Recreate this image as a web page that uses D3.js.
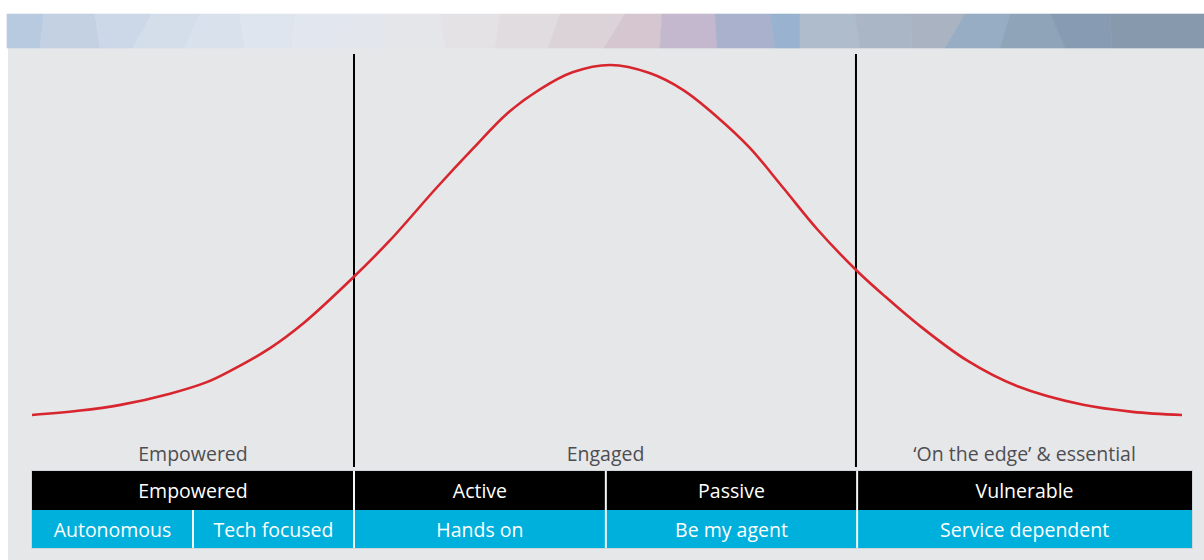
<!DOCTYPE html>
<html>
<head>
<meta charset="utf-8">
<script src="https://cdn.jsdelivr.net/npm/d3@7"></script>
<style>
  html, body { margin: 0; padding: 0; background: #ffffff; }
  svg { display: block; }
  text { font-family: "Open Sans", "Noto Sans", sans-serif; }
</style>
</head>
<body>
<svg id="chart" width="1204" height="560"></svg>
<script>
// ---- data ----
const positions = [0, 4.0, 7.7, 12.0, 15.2, 17.0, 20.7, 23.6, 27.9, 31.1, 35.2, 38.4, 41.3, 44.2, 47.0, 50.3,
                   53.7, 56.6, 59.6, 62.4, 65.3, 68.3, 71.7, 74.0, 77.0, 81.3, 85.7, 91.4, 95.7, 100];
const share     = [0, 1.2, 2.9, 6.1, 9.4, 12.2, 19.1, 26.2, 39.2, 49.8, 65.0, 76.3, 86.1, 93.1, 97.9, 100,
                   97.7, 92.9, 85.1, 76.4, 65.0, 53.0, 41.3, 34.4, 26.0, 15.6, 8.2, 2.9, 0.9, 0];
const dividers = [28.0, 71.65];
const groupLabels = ["Empowered", "Engaged", "‘On the edge’ & essential"];
const groupBounds = [0, 28.0, 71.75, 100.87];
const segmentLabels = ["Empowered", "Active", "Passive", "Vulnerable"];
const segmentBounds = [0, 28.0, 49.9, 71.75, 100.87];
const subLabels = ["Autonomous", "Tech focused", "Hands on", "Be my agent", "Service dependent"];
const subBounds = [0, 14.0, 28.0, 49.9, 71.75, 100.87];

// ---- layout ----
const svg = d3.select("#chart");
const x = d3.scaleLinear().domain([0, 100]).range([32, 1182]);
const y = d3.scaleLinear().domain([0, 100]).range([415, 65]);

// background panel
svg.append("rect").attr("x", 8).attr("y", 48).attr("width", 1196).attr("height", 512).attr("fill", "#e6e7e9");

// decorative banner (low-poly strip)
const banner = [
  [7, 7, 44, 40, "#b8cadf"], [44, 40, 95, 100, "#c3d1e3"], [95, 100, 152, 133, "#ccd7e7"],
  [152, 133, 200, 185, "#d4deeb"], [200, 185, 240, 245, "#d9e1ed"], [240, 245, 296, 292, "#dfe5ee"],
  [296, 292, 352, 330, "#e2e6ee"], [352, 330, 385, 385, "#e3e6ec"], [385, 385, 440, 445, "#e5e6ea"],
  [440, 445, 500, 495, "#e4e2e5"], [500, 495, 560, 548, "#e0dcdf"], [560, 548, 625, 604, "#dcd3d8"],
  [625, 604, 662, 660, "#d5c6cf"], [662, 660, 715, 717, "#c3b8cd"], [715, 717, 770, 775, "#a9b1cd"],
  [770, 775, 800, 800, "#99b2cf"], [800, 800, 855, 860, "#afbccb"], [855, 860, 910, 912, "#aab6c5"],
  [910, 912, 965, 945, "#aab3c2"], [965, 945, 1010, 1000, "#97adc3"], [1010, 1000, 1050, 1065, "#8fa4b8"],
  [1050, 1065, 1110, 1112, "#879cb2"], [1110, 1112, 1204, 1204, "#8699ad"]
];
svg.append("g").selectAll("polygon").data(banner).join("polygon")
  .attr("points", d => `${d[0]},14 ${d[2]},14 ${d[3]},48 ${d[1]},48`)
  .attr("fill", d => d[4]).attr("stroke", d => d[4]).attr("stroke-width", 0.6);

// vertical dividers
svg.append("g").selectAll("line").data(dividers).join("line")
  .attr("x1", d => x(d)).attr("x2", d => x(d))
  .attr("y1", 54).attr("y2", 467)
  .attr("stroke", "#000").attr("stroke-width", 2);

// bell curve
const pts = positions.map((p, i) => [p, share[i]]);
svg.append("path").datum(pts)
  .attr("fill", "none").attr("stroke", "#d7262e").attr("stroke-width", 2.6)
  .attr("d", d3.line().x(d => x(d[0])).y(d => y(d[1])).curve(d3.curveCatmullRom.alpha(0.5)));

// group labels above table
svg.append("g").selectAll("text").data(groupLabels).join("text")
  .attr("x", (d, i) => (x(groupBounds[i]) + x(groupBounds[i + 1])) / 2)
  .attr("y", 461)
  .attr("text-anchor", "middle")
  .attr("font-size", 19.5)
  .attr("fill", "#4e4e52")
  .text(d => d);

// table rows
function row(labels, bounds, y0, h, fill) {
  const g = svg.append("g");
  g.selectAll("rect").data(labels).join("rect")
    .attr("x", (d, i) => x(bounds[i])).attr("y", y0)
    .attr("width", (d, i) => x(bounds[i + 1]) - x(bounds[i])).attr("height", h)
    .attr("fill", fill);
  g.selectAll("text").data(labels).join("text")
    .attr("x", (d, i) => (x(bounds[i]) + x(bounds[i + 1])) / 2)
    .attr("y", y0 + h / 2 + 7.5)
    .attr("text-anchor", "middle")
    .attr("font-size", 19.5)
    .attr("fill", "#ffffff")
    .text(d => d);
  g.selectAll("line").data(bounds.slice(1, -1)).join("line")
    .attr("x1", d => x(d)).attr("x2", d => x(d))
    .attr("y1", y0).attr("y2", y0 + h)
    .attr("stroke", "#f4f6f8").attr("stroke-width", 2);
}
row(segmentLabels, segmentBounds, 471, 39, "#000000");
row(subLabels, subBounds, 510, 38, "#00b0dc");

// outer table border
svg.append("rect")
  .attr("x", x(0) - 0.5).attr("y", 470.5)
  .attr("width", x(100.87) - x(0) + 1).attr("height", 78)
  .attr("fill", "none").attr("stroke", "#cfd6dc").attr("stroke-width", 1);
</script>
</body>
</html>
